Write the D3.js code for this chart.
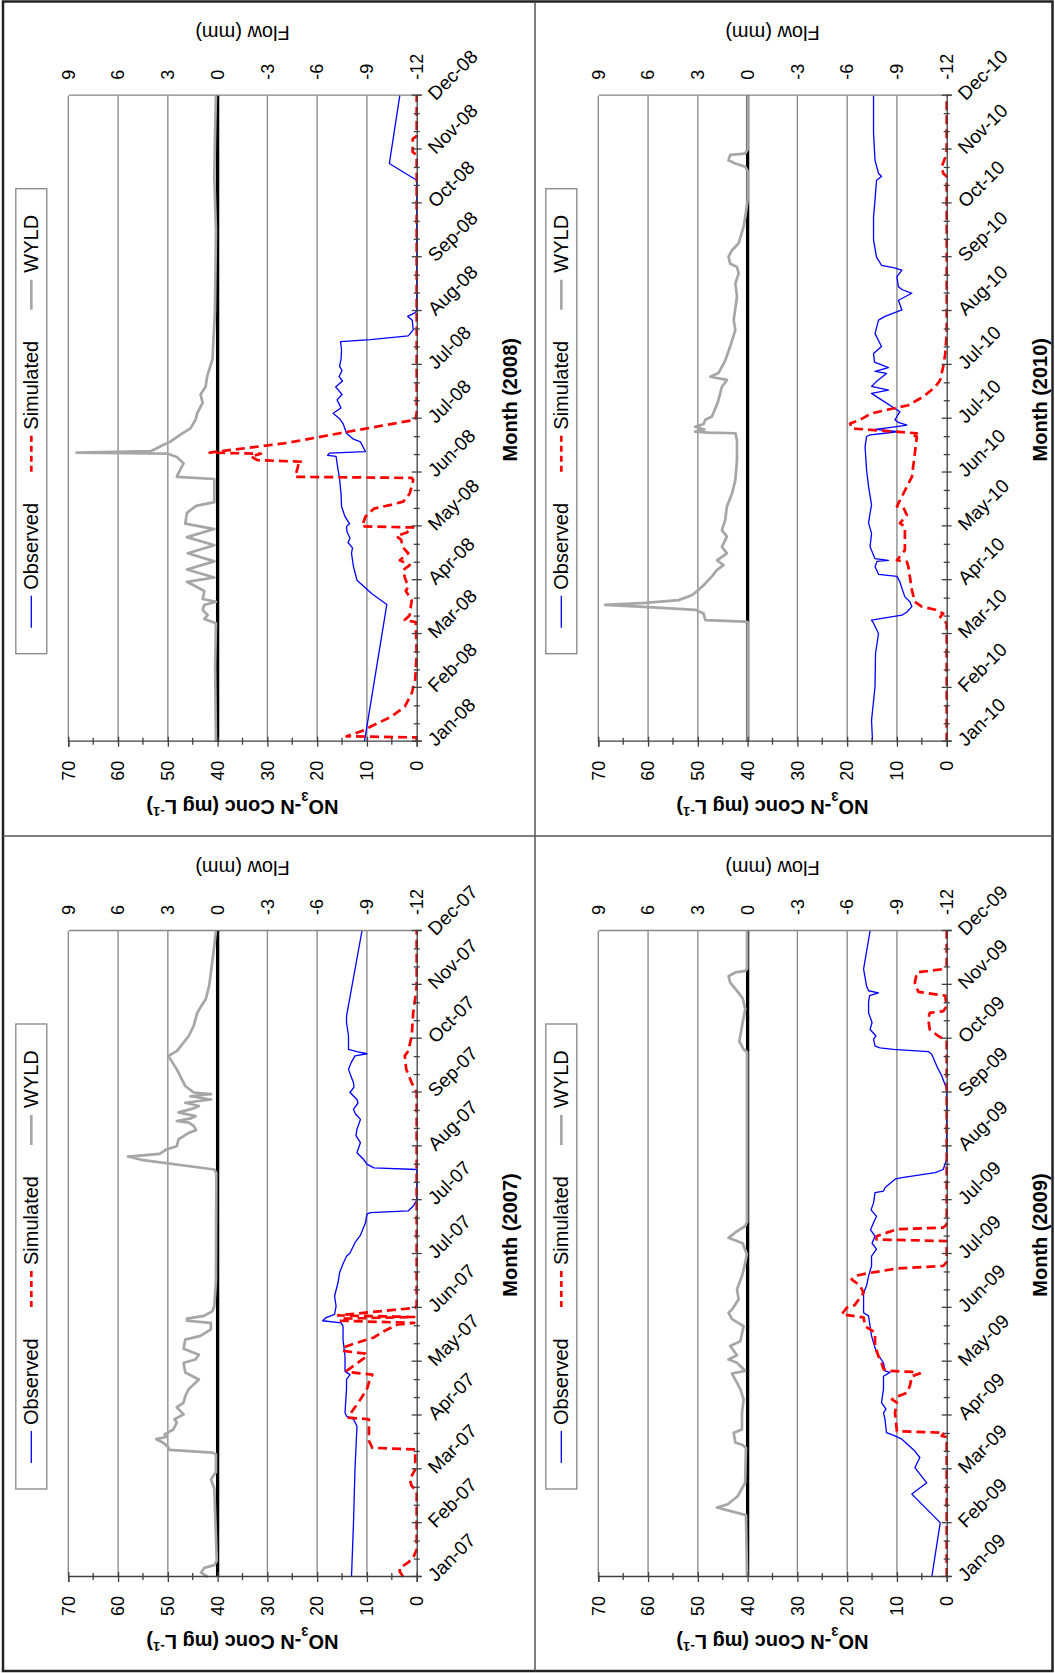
<!DOCTYPE html>
<html>
<head>
<meta charset="utf-8">
<script src="https://cdn.jsdelivr.net/npm/d3@7"></script>
<style>
  html, body { margin: 0; padding: 0; background: #fff; }
  svg { display: block; }
</style>
</head>
<body>
<svg id="fig" width="1055" height="1673"></svg>
<script>
// ---------------------------------------------------------------------------
// Daily NO3-N concentration (observed vs simulated, mg/L) and water yield
// (WYLD, mm) for 2007-2010. Time is given in months from 1 January (0..12).
// ---------------------------------------------------------------------------
const years = ["2007", "2008", "2009", "2010"];
const monthNames = ["Jan", "Feb", "Mar", "Apr", "May", "Jun", "Jul", "Jul", "Aug", "Sep", "Oct", "Nov", "Dec"];
const concTicks = [0, 10, 20, 30, 40, 50, 60, 70];
const flowTicks = [-12, -9, -6, -3, 0, 3, 6, 9];
const seriesNames = ["Observed", "Simulated", "WYLD"];

const obs2007 = [[0,13.1],[1.0,12.7],[2.0,12.4],[2.8,12.0],[2.93,12.7],[2.99,14.1],[3.05,14.4],[3.49,14.1],[3.67,14.1],[3.76,13.4],[3.82,14.4],[4.1,14.4],[4.41,14.8],[4.66,14.8],[4.72,15.2],[4.76,18.9],[4.82,18.2],[4.88,16.5],[5.03,16.2],[5.22,16.5],[5.47,15.8],[5.65,15.5],[5.82,14.8],[5.96,14.1],[6.02,13.4],[6.21,12.4],[6.35,11.3],[6.58,10.3],[6.74,10.0],[6.77,9.3],[6.8,1.7],[6.89,0.7],[7.0,0],[7.57,0],[7.6,8.6],[7.67,10.0],[7.76,10.7],[7.88,12.0],[8.07,11.3],[8.2,12.2],[8.32,12.0],[8.5,11.3],[8.6,12.3],[8.69,12.7],[8.8,11.8],[8.87,12.0],[9.0,13.4],[9.1,12.6],[9.18,12.7],[9.3,13.2],[9.43,13.7],[9.55,13.2],[9.68,12.4],[9.72,10.0],[9.76,12.0],[9.8,13.7],[10.05,13.7],[10.3,14.1],[10.42,14.1],[12,11.0]];
const sim2007 = [[0,2.7],[0.1,3.4],[0.17,3.4],[0.27,1.7],[0.36,0.7],[0.51,0],[1.6,0],[1.69,1.0],[1.81,1.4],[2.0,0.3],[2.37,0.3],[2.4,8.9],[2.53,9.6],[2.93,9.6],[2.96,13.7],[3.02,13.4],[3.3,11.3],[3.49,10.0],[3.7,9.3],[3.76,8.9],[3.8,13.1],[3.83,14.1],[4.1,10.0],[4.15,10.3],[4.2,14.8],[4.26,14.8],[4.33,12.7],[4.45,8.6],[4.57,6.5],[4.69,3.8],[4.72,0.5],[4.76,15.5],[4.8,15.0],[4.83,0.5],[4.86,15.8],[5.0,0.3],[5.05,0],[9.0,0],[9.18,1.0],[9.43,2.1],[9.68,2.4],[9.77,1.7],[10.05,1.0],[10.48,0.7],[10.75,0.3],[10.98,0],[12,0]];
const wyld2007 = [[0,0.6],[0.08,1.0],[0.17,0.8],[0.22,0.2],[0.3,0.05],[1.65,0.2],[1.81,0.4],[1.95,0.1],[2.28,0.1],[2.31,0.3],[2.36,2.9],[2.41,2.97],[2.5,3.3],[2.56,3.7],[2.6,3.1],[2.65,3.2],[2.74,2.67],[2.87,2.46],[2.93,2.6],[3.02,2.05],[3.15,2.46],[3.24,2.05],[3.36,1.95],[3.49,1.74],[3.67,1.13],[3.8,1.95],[3.98,2.05],[4.04,1.33],[4.13,1.13],[4.24,2.05],[4.41,1.95],[4.48,1.03],[4.6,0.41],[4.72,0.41],[4.76,1.85],[4.8,1.85],[4.85,0.82],[4.94,0.31],[5.03,0.2],[5.5,0.1],[7.5,0.08],[7.57,0.2],[7.75,4.6],[7.81,5.4],[7.86,3.5],[7.94,3.1],[8.0,2.46],[8.13,2.36],[8.25,1.74],[8.3,1.3],[8.38,1.44],[8.44,1.74],[8.47,2.46],[8.52,1.6],[8.56,1.33],[8.63,2.36],[8.7,1.5],[8.75,1.13],[8.81,1.95],[8.87,0.4],[8.93,1.64],[8.97,0.4],[9.0,1.44],[9.12,1.95],[9.31,2.26],[9.43,2.46],[9.68,2.97],[9.77,2.46],[10.05,1.74],[10.24,1.44],[10.48,1.23],[10.64,0.92],[10.73,0.72],[10.98,0.51],[11.6,0.25],[12,0.1]];

const obs2008 = [[0,10.5],[2.55,6.0],[2.75,9.0],[3.0,12.0],[3.25,12.7],[3.5,13.1],[3.6,12.9],[3.7,13.8],[3.78,13.4],[3.9,14.0],[4.0,14.1],[4.05,13.5],[4.18,14.4],[4.37,15.1],[4.6,15.2],[4.89,15.5],[5.05,15.8],[5.3,16.2],[5.32,17.9],[5.36,17.5],[5.39,10.3],[5.57,11.3],[5.62,12.7],[5.73,14.1],[5.91,14.8],[6.0,15.5],[6.1,16.8],[6.2,15.2],[6.35,16.0],[6.45,15.0],[6.59,16.3],[6.7,14.9],[6.78,15.6],[6.9,15.0],[6.97,15.5],[7.1,15.2],[7.28,15.1],[7.43,15.3],[7.47,9.3],[7.54,1.7],[7.65,0.7],[7.83,0.9],[7.9,1.8],[7.96,0.5],[8.0,0],[10.43,0],[10.74,5.5],[12,3.4]];
const sim2008 = [[0,0],[0.08,0],[0.1,14.1],[0.2,11.0],[0.31,8.6],[0.46,5.2],[0.65,2.4],[0.9,1.0],[1.15,0.3],[1.64,0],[2.22,0.2],[2.26,2.4],[2.35,1.4],[2.5,1.2],[2.63,1.0],[2.8,2.2],[2.88,1.7],[3.05,2.4],[3.19,2.7],[3.28,1.4],[3.37,3.4],[3.5,1.7],[3.62,2.9],[3.75,3.1],[3.82,4.1],[3.88,2.1],[3.98,0.7],[4.0,11.0],[4.18,10.3],[4.33,8.6],[4.4,5.2],[4.46,2.7],[4.61,1.4],[4.86,0.7],[4.9,1.0],[4.92,24.4],[5.17,23.7],[5.2,23.0],[5.23,32.0],[5.3,33.3],[5.35,31.3],[5.37,41.6],[5.55,26.0],[5.73,15.5],[5.98,0.3],[6.1,0],[10.9,0],[10.95,0.8],[11.2,0.8],[11.25,0],[12,0]];
const wyld2008 = [[0,0.1],[1.4,0.15],[2.2,0.1],[2.28,0.8],[2.35,0.6],[2.45,0.9],[2.54,0.8],[2.6,0.1],[2.65,0.9],[2.8,0.8],[2.97,1.85],[3.05,0.2],[3.2,1.85],[3.35,0.2],[3.5,1.8],[3.65,0.2],[3.8,1.85],[3.95,0.2],[4.05,1.95],[4.25,1.85],[4.38,1.3],[4.45,0.2],[4.88,0.2],[4.92,2.46],[5.05,2.26],[5.17,2.05],[5.29,2.46],[5.35,3.0],[5.37,8.5],[5.4,4.0],[5.51,3.28],[5.57,2.87],[5.7,2.26],[5.82,1.64],[5.98,1.33],[6.1,1.23],[6.3,0.9],[6.45,1.03],[6.6,0.72],[6.8,0.62],[7.1,0.31],[8.0,0.16],[9.5,0.1],[10.5,0.2],[11.2,0.16],[12,0.1]];

const obs2009 = [[0,3.0],[1.01,1.3],[1.54,7.0],[1.75,4.0],[2.03,6.4],[2.22,5.4],[2.34,6.4],[2.56,9.0],[2.62,10.4],[2.68,12.1],[2.93,12.4],[3.05,12.7],[3.12,12.2],[3.24,13.1],[3.49,12.7],[3.73,12.7],[3.8,11.4],[3.83,12.4],[3.98,12.7],[4.17,14.1],[4.35,14.7],[4.48,15.1],[4.66,15.4],[4.85,15.7],[4.91,16.7],[5.28,16.7],[5.41,16.1],[5.59,15.7],[5.78,15.1],[5.96,15.1],[6.09,14.1],[6.2,15.0],[6.33,14.4],[6.45,15.3],[6.58,14.7],[6.7,14.1],[6.82,15.2],[6.95,14.7],[7.14,14.4],[7.17,12.7],[7.23,12.4],[7.39,10.4],[7.42,9.0],[7.51,2.3],[7.57,0.7],[7.76,0],[9.06,0],[9.31,1.0],[9.49,2.0],[9.71,3.0],[9.76,3.7],[9.8,10.7],[9.83,13.4],[9.86,14.4],[9.99,14.7],[10.05,14.2],[10.17,15.4],[10.3,15.0],[10.48,15.7],[10.67,15.7],[10.8,15.5],[10.85,13.7],[10.89,15.7],[10.98,16.1],[11.29,16.7],[12,15.4]];
const sim2009 = [[0,0],[2.6,0],[2.62,1.0],[2.68,0.5],[2.71,10.0],[3.05,10.4],[3.24,10.0],[3.3,11.0],[3.36,9.7],[3.42,8.0],[3.55,7.4],[3.73,7.0],[3.78,5.4],[3.81,7.0],[3.83,11.7],[3.86,12.7],[3.98,13.1],[4.1,13.7],[4.29,14.4],[4.54,14.4],[4.6,15.4],[4.66,16.4],[4.82,16.7],[4.88,21.1],[4.95,20.5],[5.0,20.1],[5.05,18.5],[5.28,16.7],[5.41,17.4],[5.53,19.1],[5.6,18.1],[5.65,15.4],[5.73,10.0],[5.78,0.7],[5.85,0],[6.24,0],[6.27,14.1],[6.33,14.1],[6.46,10.0],[6.49,0.7],[6.55,0],[9.96,0],[10.05,1.7],[10.17,3.4],[10.36,3.7],[10.48,3.4],[10.51,0.7],[10.6,0],[10.8,0.3],[10.87,5.7],[11.04,6.4],[11.23,6.0],[11.29,1.0],[11.35,0],[12,0]];
const wyld2009 = [[0,0.03],[1.15,0.1],[1.29,1.85],[1.35,1.2],[1.5,0.6],[1.75,0.15],[2.4,0.1],[2.45,0.3],[2.5,0.74],[2.68,0.84],[2.74,0.34],[3.05,0.34],[3.3,0.24],[3.49,0.44],[3.78,0.94],[3.83,0.15],[3.98,0.64],[4.04,1.15],[4.12,0.64],[4.29,1.05],[4.38,0.44],[4.66,0.24],[4.79,0.94],[4.91,1.15],[4.97,0.94],[5.16,0.54],[5.34,0.64],[5.59,0.34],[5.84,0.14],[6.0,0.05],[6.2,0.3],[6.3,1.15],[6.4,0.74],[6.52,0.14],[6.6,0.03],[9.75,0.03],[9.8,0.24],[9.95,0.5],[10.05,0.44],[10.3,0.3],[10.55,0.14],[10.75,0.3],[10.85,0.54],[11.04,1.05],[11.16,1.15],[11.23,0.74],[11.26,0.14],[11.3,0.03],[12,0.03]];

const obs2010 = [[0,14.9],[0.4,15.1],[1.02,14.4],[1.64,14.3],[2.01,13.7],[2.2,14.7],[2.26,15.1],[2.3,12.4],[2.35,9.0],[2.41,8.0],[2.51,7.0],[2.6,7.4],[2.69,8.4],[2.85,9.0],[2.97,9.4],[3.07,10.0],[3.11,13.7],[3.25,14.4],[3.35,14.0],[3.37,11.7],[3.4,14.4],[3.62,15.4],[3.87,15.1],[4.06,15.7],[4.24,15.4],[4.4,15.1],[4.74,15.7],[5.05,16.1],[5.48,16.4],[5.67,16.1],[5.7,15.4],[5.73,12.4],[5.76,9.7],[5.8,14.4],[5.85,10.4],[5.88,8.0],[5.93,9.7],[5.98,10.4],[6.13,9.4],[6.35,13.1],[6.47,15.1],[6.53,11.7],[6.6,15.1],[6.7,14.0],[6.84,12.1],[6.88,14.4],[6.95,11.7],[7.05,14.5],[7.21,14.7],[7.34,13.1],[7.58,14.4],[7.83,13.7],[7.9,12.4],[7.96,10.7],[8.02,9.0],[8.2,9.7],[8.33,7.0],[8.4,9.0],[8.45,9.7],[8.64,10.0],[8.76,9.0],[8.8,10.5],[8.85,13.1],[9.0,14.1],[9.32,14.7],[9.75,14.7],[10.06,14.4],[10.43,14.1],[10.5,13.1],[10.56,13.7],[10.8,14.4],[11.3,14.7],[12,14.7]];
const sim2010 = [[0,0],[2.2,0],[2.32,1.3],[2.38,0.7],[2.45,2.3],[2.51,5.0],[2.6,6.4],[2.82,7.0],[3.25,7.7],[3.34,8.0],[3.37,10.0],[3.56,8.4],[3.99,8.4],[4.06,9.4],[4.21,8.0],[4.35,8.7],[4.37,10.0],[4.92,7.0],[5.36,6.4],[5.67,6.0],[5.7,7.0],[5.73,6.0],[5.76,10.4],[5.82,19.1],[5.91,19.4],[5.98,17.4],[6.1,15.1],[6.17,11.7],[6.25,7.7],[6.41,4.7],[6.59,2.3],[6.72,1.3],[6.97,0.7],[7.2,0.3],[7.58,0],[10.5,0],[10.56,0.7],[10.68,1.0],[10.85,0.3],[10.99,0],[12,0]];
const wyld2010 = [[0,0],[2.22,0],[2.23,0.14],[2.26,2.55],[2.38,2.65],[2.45,3.16],[2.5,5.97],[2.54,8.58],[2.58,6.17],[2.63,4.16],[2.72,3.36],[2.82,2.95],[2.94,2.55],[3.07,2.15],[3.19,1.85],[3.28,1.45],[3.37,1.85],[3.5,1.25],[3.62,1.55],[3.81,1.25],[3.93,1.55],[4.12,1.35],[4.37,1.25],[4.61,0.94],[4.86,0.74],[5.23,0.64],[5.6,0.64],[5.73,0.74],[5.74,2.35],[5.76,3.16],[5.8,2.6],[5.85,3.16],[5.9,2.65],[5.98,2.55],[6.04,2.15],[6.3,1.8],[6.59,1.55],[6.72,1.25],[6.78,2.25],[6.85,1.75],[7.08,1.35],[7.34,1.05],[7.65,0.74],[7.83,0.84],[8.27,0.64],[8.51,0.74],[8.7,0.54],[8.82,0.64],[8.88,1.05],[9.01,1.15],[9.13,0.94],[9.26,0.54],[9.57,0.24],[9.75,0.14],[10.06,0],[10.6,0],[10.68,0.14],[10.74,0.74],[10.8,1.15],[10.9,1.05],[10.92,0.34],[10.93,0.14],[11.0,0],[12,0]];

// ---------------------------------------------------------------------------
const FONT = '"Liberation Sans", Arial, Helvetica, sans-serif';
const C_OBS = "#0000ff", C_SIM = "#ff0000", C_WYLD = "#a6a6a6";
const C_GRID = "#868686", C_AXIS = "#404040";
const plainNum = d => String(d);   // plain hyphen for negatives

const svg = d3.select("#fig").attr("font-family", FONT);

// Panel separators and outer frame (page coordinates)
svg.append("rect").attr("x", 3).attr("y", 1.5).attr("width", 1049.5).attr("height", 1669.5)
  .attr("fill", "none").attr("stroke", "#222").attr("stroke-width", 2.5);
svg.append("line").attr("x1", 535).attr("x2", 535).attr("y1", 2).attr("y2", 1671)
  .attr("stroke", "#555").attr("stroke-width", 1.5);
svg.append("line").attr("x1", 3).attr("x2", 1053).attr("y1", 836).attr("y2", 836)
  .attr("stroke", "#555").attr("stroke-width", 1.5);

// The figure is laid out landscape (1673 x 1055) and turned a quarter turn
// counter-clockwise onto the portrait page.
const fig = svg.append("g").attr("transform", "translate(0,1673) rotate(-90)");

const PW = 646, PH = 348.4;
const panelOrigin = {
  "2007": { x: 96,    y: 68.3 },
  "2008": { x: 931.3, y: 68.3 },
  "2009": { x: 96,    y: 598.3 },
  "2010": { x: 931.3, y: 598.3 }
};
const panelData = {
  "2007": [obs2007, sim2007, wyld2007],
  "2008": [obs2008, sim2008, wyld2008],
  "2009": [obs2009, sim2009, wyld2009],
  "2010": [obs2010, sim2010, wyld2010]
};

function styleAxisText(sel, size) {
  sel.attr("font-family", FONT).attr("font-size", size);
  sel.selectAll("text").attr("fill", "#000");
}

function drawPanel(year) {
  const o = panelOrigin[year];
  const [obs, sim, wyld] = panelData[year];
  const labels = monthNames.map(m => m + "-" + year.slice(2));

  const x = d3.scaleLinear().domain([0, 12]).range([o.x, o.x + PW]);
  const yC = d3.scaleLinear().domain([0, 70]).range([o.y + PH, o.y]);
  const yF = d3.scaleLinear().domain([-12, 9]).range([o.y + PH, o.y]);

  const g = fig.append("g");

  // horizontal gridlines on the concentration scale
  g.append("g").selectAll("line").data(concTicks.filter(v => v > 0)).join("line")
    .attr("x1", x(0)).attr("x2", x(12))
    .attr("y1", d => yC(d)).attr("y2", d => yC(d))
    .attr("stroke", C_GRID).attr("stroke-width", 1.3);

  // secondary (flow) axis on the right
  const fAx = g.append("g").attr("transform", `translate(${x(12)},0)`)
    .call(d3.axisRight(yF).tickValues(flowTicks).tickFormat(plainNum).tickSize(0).tickPadding(16));
  fAx.select(".domain").attr("stroke", C_GRID).attr("stroke-width", 1.3);
  styleAxisText(fAx, 18);

  // zero-flow reference line
  g.append("line").attr("x1", x(0)).attr("x2", x(12))
    .attr("y1", yF(0)).attr("y2", yF(0))
    .attr("stroke", "#000").attr("stroke-width", 3.3);

  // series
  const lineC = d3.line().x(d => x(d[0])).y(d => yC(d[1]));
  const lineF = d3.line().x(d => x(d[0])).y(d => yF(d[1]));
  g.append("path").datum(wyld).attr("d", lineF)
    .attr("fill", "none").attr("stroke", C_WYLD).attr("stroke-width", 2.7)
    .attr("stroke-linejoin", "round");
  g.append("path").datum(obs).attr("d", lineC)
    .attr("fill", "none").attr("stroke", C_OBS).attr("stroke-width", 1.3)
    .attr("stroke-linejoin", "round");
  g.append("path").datum(sim).attr("d", lineC)
    .attr("fill", "none").attr("stroke", C_SIM).attr("stroke-width", 2.7)
    .attr("stroke-dasharray", "9,5").attr("stroke-linejoin", "round");

  // concentration axis (left)
  const cAx = g.append("g").attr("transform", `translate(${x(0)},0)`)
    .call(d3.axisLeft(yC).tickValues(concTicks).tickFormat(plainNum).tickSize(5).tickPadding(14));
  cAx.select(".domain").attr("stroke", C_AXIS).attr("stroke-width", 1.3);
  cAx.selectAll(".tick line").attr("x1", 5).attr("stroke", C_AXIS).attr("stroke-width", 1.3);
  styleAxisText(cAx, 18);
  g.append("g").selectAll("line").data(d3.range(5, 70, 10)).join("line")
    .attr("x1", x(0) - 3).attr("x2", x(0) + 4)
    .attr("y1", d => yC(d)).attr("y2", d => yC(d))
    .attr("stroke", C_AXIS).attr("stroke-width", 1.3);

  // month axis (bottom)
  const mAx = g.append("g").attr("transform", `translate(0,${yC(0)})`)
    .call(d3.axisBottom(x).tickValues(d3.range(13)).tickFormat(i => labels[i]).tickSize(5));
  mAx.select(".domain").attr("stroke", C_AXIS).attr("stroke-width", 1.3);
  mAx.selectAll(".tick line").attr("y1", -5).attr("stroke", C_AXIS).attr("stroke-width", 1.3);
  styleAxisText(mAx, 19);
  mAx.selectAll(".tick text")
    .attr("y", 0).attr("dy", 0).attr("text-anchor", "start")
    .attr("transform", "translate(-6,19) rotate(45)");
  g.append("g").selectAll("line").data(d3.range(1, 36).filter(i => i % 3 !== 0).map(i => i / 3)).join("line")
    .attr("x1", d => x(d)).attr("x2", d => x(d))
    .attr("y1", yC(0) - 3).attr("y2", yC(0) + 3)
    .attr("stroke", C_AXIS).attr("stroke-width", 1.3);

  // axis titles
  const cT = g.append("text")
    .attr("transform", `translate(${o.x - 58},${o.y + PH / 2}) rotate(-90)`)
    .attr("text-anchor", "middle").attr("font-size", 20).attr("font-weight", "bold");
  cT.append("tspan").text("NO");
  cT.append("tspan").attr("font-size", 13).attr("baseline-shift", "sub").text("3");
  cT.append("tspan").text("-N Conc (mg L");
  cT.append("tspan").attr("font-size", 13).attr("baseline-shift", "super").text("-1");
  cT.append("tspan").text(")");

  g.append("text")
    .attr("transform", `translate(${o.x + PW + 70},${o.y + PH / 2}) rotate(-90)`)
    .attr("text-anchor", "middle").attr("font-size", 20).text("Flow (mm)");

  g.append("text")
    .attr("x", o.x + PW / 2 + 19).attr("y", o.y + PH + 100)
    .attr("text-anchor", "middle").attr("font-size", 20).attr("font-weight", "bold")
    .text(`Month (${year})`);

  // legend
  const lg = g.append("g").attr("transform", `translate(${o.x},${o.y - 37})`);
  lg.append("rect").attr("x", 88).attr("y", -15.5).attr("width", 465).attr("height", 31)
    .attr("fill", "#fff").attr("stroke", C_GRID).attr("stroke-width", 1.3);
  const items = [
    { name: seriesNames[0], x0: 114, x1: 146, tx: 152, color: C_OBS, w: 1.3, dash: null },
    { name: seriesNames[1], x0: 270, x1: 306, tx: 312, color: C_SIM, w: 2.7, dash: "6,4" },
    { name: seriesNames[2], x0: 432, x1: 462, tx: 469, color: C_WYLD, w: 2.7, dash: null }
  ];
  items.forEach(it => {
    lg.append("line").attr("x1", it.x0).attr("x2", it.x1).attr("y1", 0).attr("y2", 0)
      .attr("stroke", it.color).attr("stroke-width", it.w).attr("stroke-dasharray", it.dash);
    lg.append("text").attr("x", it.tx).attr("y", 0).attr("dy", "0.35em")
      .attr("font-size", 20).text(it.name);
  });
}

years.forEach(drawPanel);
</script>
</body>
</html>
